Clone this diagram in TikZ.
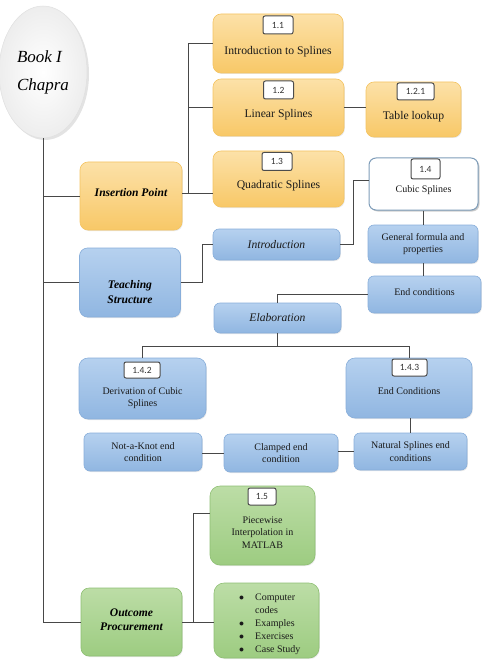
\documentclass[tikz,border=0pt]{standalone}
\usepackage{fontspec}
\setmainfont{Liberation Serif}
\newfontfamily\tagfont{Carlito}
\usetikzlibrary{shapes.geometric,shadows,calc}
\definecolor{ortop}{HTML}{FCE1A8}
\definecolor{orbot}{HTML}{F8C867}
\definecolor{ordraw}{HTML}{F4C462}
\definecolor{bltop}{HTML}{B6D1EF}
\definecolor{blbot}{HTML}{90B6E1}
\definecolor{bldraw}{HTML}{88AEDA}
\definecolor{grtop}{HTML}{BCDDA6}
\definecolor{grbot}{HTML}{9DCC81}
\definecolor{grdraw}{HTML}{8EBF73}
\definecolor{cubdraw}{HTML}{7F9DB9}
\definecolor{txt}{HTML}{1A1A1A}
\begin{document}
\begin{tikzpicture}[x=1pt,y=-1pt,
  conn/.style={draw=black!72, line width=0.9pt},
  box/.style={rounded corners=8pt, line width=0.6pt, inner sep=0pt,
    drop shadow={opacity=0.18, shadow xshift=0.8pt, shadow yshift=-1pt}},
  obox/.style={box, draw=ordraw, top color=ortop, bottom color=orbot},
  bbox/.style={box, draw=bldraw, top color=bltop, bottom color=blbot},
  gbox/.style={box, draw=grdraw, top color=grtop, bottom color=grbot},
  tagbox/.style={draw=black!70, line width=1pt, rounded corners=2pt, fill=white,
    minimum width=30pt, minimum height=18pt, inner sep=0pt,
    font=\tagfont\fontsize{9.5}{11}\selectfont, text=black!80},
  otxt/.style={font=\fontsize{11.7}{14}\selectfont, text=txt, align=center},
  btxt/.style={font=\fontsize{10}{12.5}\selectfont, text=txt, align=center},
  htxt/.style={font=\fontsize{11.6}{14.5}\selectfont\bfseries\itshape, text=black, align=center},
  itxt/.style={font=\fontsize{11.6}{14}\selectfont\itshape, text=txt, align=center}]
\useasboundingbox (0,0) rectangle (484,660);

% root ellipse
\node[ellipse, draw=black!12, line width=0.5pt, inner color=white, outer color=black!7,
  minimum width=88pt, minimum height=132pt,
  drop shadow={opacity=0.22, shadow xshift=2pt, shadow yshift=-2pt},
  font=\fontsize{17}{28}\selectfont\itshape, align=left, text=black] (ell) at (43,72) {Book I\\Chapra};

% level 1
\node[obox, minimum width=102pt, minimum height=68pt] (ins) at (131,196) {};
\node[htxt] (inst) at (131,193) {Insertion Point};
\node[bbox, minimum width=101pt, minimum height=69pt] (ts) at (130,282.5) {};
\node[htxt] (tst) at (130,292) {Teaching\\Structure};
\node[gbox, minimum width=101pt, minimum height=68pt] (op) at (131.5,622) {};
\node[htxt, font=\fontsize{11.6}{14}\selectfont\bfseries\itshape] (opt) at (131.5,620) {Outcome\\Procurement};

% orange children
\node[obox, minimum width=130pt, minimum height=59pt] (n11) at (278,43.5) {};
\node[tagbox] (t11) at (278,25) {1.1};
\node[otxt] (n11t) at (278,52) {Introduction to Splines};
\node[obox, minimum width=131pt, minimum height=57pt] (n12) at (278.5,107.5) {};
\node[tagbox] (t12) at (278.5,90) {1.2};
\node[otxt] (n12t) at (278.5,115) {Linear Splines};
\node[obox, minimum width=95pt, minimum height=55pt] (n121) at (413.5,109.5) {};
\node[tagbox, minimum width=37pt, minimum height=17pt] (t121) at (415.5,91.5) {1.2.1};
\node[otxt] (n121t) at (413.5,117) {Table lookup};
\node[obox, minimum width=131pt, minimum height=56pt] (n13) at (278.5,179) {};
\node[tagbox] (t13) at (277,161.5) {1.3};
\node[otxt] (n13t) at (278.5,186) {Quadratic Splines};

% cubic splines
\node[box, rounded corners=7pt, draw=cubdraw, line width=1pt, fill=white,
  minimum width=109pt, minimum height=52pt,
  drop shadow={opacity=0.35, shadow xshift=1.5pt, shadow yshift=-1.5pt}] (cub) at (423.5,184) {};
\node[tagbox, minimum width=29pt, minimum height=20pt] (t14) at (425.5,169) {1.4};
\node[btxt] (cubt) at (423.5,190) {Cubic Splines};

% blue children
\node[bbox, rounded corners=6pt, minimum width=127pt, minimum height=31pt] (intro) at (276.5,244.5) {};
\node[itxt] (introt) at (276.5,244.5) {Introduction};
\node[bbox, rounded corners=6pt, minimum width=110pt, minimum height=38pt] (gen) at (423,244) {};
\node[btxt] (gent) at (423,244) {General formula and\\properties};
\node[bbox, rounded corners=6pt, minimum width=113pt, minimum height=37pt] (endc) at (424.5,294.5) {};
\node[btxt] (endct) at (424.5,292) {End conditions};
\node[bbox, rounded corners=6pt, minimum width=127pt, minimum height=30pt] (elab) at (277.5,318) {};
\node[itxt] (elabt) at (277.5,318) {Elaboration};

\node[bbox, rounded corners=9pt, minimum width=127pt, minimum height=61pt] (d142) at (142.5,388.5) {};
\node[tagbox, minimum width=36pt, minimum height=16pt] (t142) at (142,370) {1.4.2};
\node[btxt] (d142t) at (142.5,398) {Derivation of Cubic\\Splines};
\node[bbox, rounded corners=9pt, minimum width=126pt, minimum height=60pt] (d143) at (409,388) {};
\node[tagbox, minimum width=35pt, minimum height=17pt] (t143) at (409.5,367.5) {1.4.3};
\node[btxt] (d143t) at (409,391) {End Conditions};

\node[bbox, rounded corners=6pt, minimum width=118pt, minimum height=38pt] (nak) at (143,452) {};
\node[btxt] (nakt) at (143,452) {Not-a-Knot end\\condition};
\node[bbox, rounded corners=6pt, minimum width=114pt, minimum height=38pt] (clamp) at (281,453) {};
\node[btxt] (clampt) at (281,453) {Clamped end\\condition};
\node[bbox, rounded corners=6pt, minimum width=113pt, minimum height=37pt] (nat) at (410.5,451.5) {};
\node[btxt] (natt) at (410.5,451.5) {Natural Splines end\\conditions};

% green children
\node[gbox, rounded corners=10pt, minimum width=105pt, minimum height=79pt] (p15) at (262.5,525.5) {};
\node[tagbox, minimum width=28pt, minimum height=17pt] (t15) at (262,496.5) {1.5};
\node[btxt] (p15t) at (262.5,532.5) {Piecewise\\Interpolation in\\MATLAB};
\node[gbox, rounded corners=10pt, minimum width=105pt, minimum height=75pt] (bul) at (266.5,620.5) {};
\node[font=\fontsize{10}{13}\selectfont, text=txt, anchor=north west, inner sep=0pt] (bult) at (239,591)
  {\begin{tabular}{@{}l@{\hspace{11pt}}l@{}}
   $\bullet$ & Computer\\ & codes\\ $\bullet$ & Examples\\ $\bullet$ & Exercises\\ $\bullet$ & Case Study
   \end{tabular}};

% connectors
\draw[conn] (ell.south) |- (ins.west);
\draw[conn] (ell.south) |- (ts.west);
\draw[conn] (ell.south) |- (op.west);
\coordinate (j1) at (188,0);
\draw[conn] (ins.east |- inst) -- (j1 |- inst) |- (n11.west);
\draw[conn] (j1 |- inst) |- (n12.west);
\draw[conn] (j1 |- inst) -- (n13.west |- inst);
\draw[conn] (n12.east) -- (n12.east -| n121.west);
\draw[conn] (ts.east) -- ++(22,0) |- (intro.west);
\draw[conn] (intro.east) -- ++(13,0) |- ($(cub.west)+(0,-4)$);
\draw[conn] (cub.south -| gen.north) -- (gen.north);
\draw[conn] (gen.south) -- (gen.south |- endc.north);
\draw[conn] (endc.west) -| (elab.north);
\coordinate (j2) at (0,346);
\draw[conn] (elab.south) -- (elab.south |- j2) -| (d142.north);
\draw[conn] (elab.south |- j2) -| (d143.north);
\draw[conn] (d143.south -| nat.north) -- (nat.north);
\draw[conn] (nat.west) -- (nat.west -| clamp.east);
\draw[conn] (clamp.west) -- (clamp.west -| nak.east);
\draw[conn] (op.east) -- ++(11,0) |- ($(p15.west)+(0,-12)$);
\draw[conn] (op.east) -- (op.east -| bul.west);
\end{tikzpicture}
\end{document}
